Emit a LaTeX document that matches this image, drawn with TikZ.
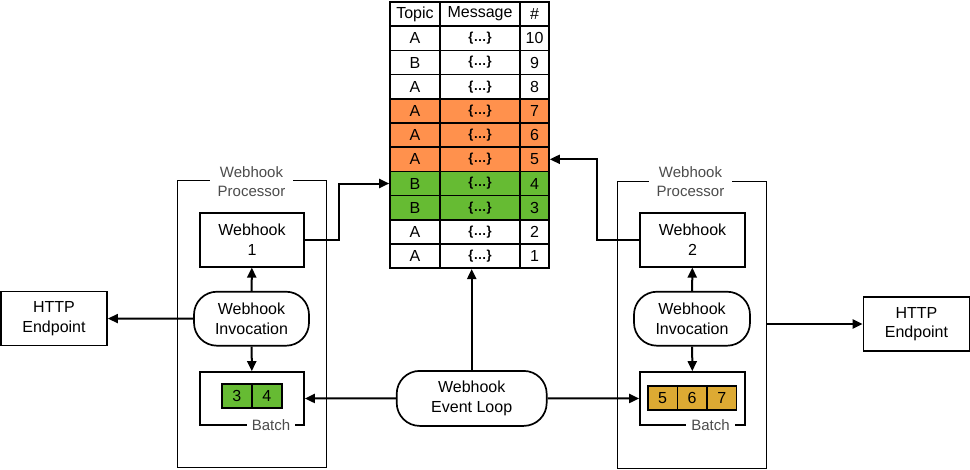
\documentclass[tikz,border=0pt]{standalone}
\usepackage{fontspec}
\setmainfont{Liberation Sans}
\usetikzlibrary{positioning, arrows.meta}
\definecolor{orng}{HTML}{FF914D}
\definecolor{grn}{HTML}{66BB33}
\definecolor{gold}{HTML}{DDAA33}

\begin{document}
\begin{tikzpicture}[x=1pt, y=-1pt,
    box/.style={rectangle, draw, fill=white, line width=1.7pt, align=center, inner sep=0pt, minimum width=105pt, minimum height=54pt, font=\fontsize{16}{19.5}\selectfont},
    pill/.style={box, rounded corners=23pt},
    processor/.style={rectangle, draw, line width=1pt, minimum width=149pt, minimum height=287pt, inner sep=0pt},
    caption/.style={fill=white, align=center, inner xsep=8pt, inner ysep=1pt, text=black!70, font=\fontsize{15}{19}\selectfont},
    cell/.style={rectangle, draw, line width=1.6pt, inner sep=0pt, minimum height=24.2pt, font=\fontsize{16}{19}\selectfont},
    item/.style={cell, minimum width=30pt, minimum height=24pt},
    arrow/.style={->, >={Triangle[length=10pt, width=9pt]}, line width=2pt}
  ]
  \useasboundingbox (0,0) rectangle (970,469);

  % Top: message table
  \node[cell, minimum width=50pt] (topichead) at (415,14.1) {Topic};
  \node[cell, minimum width=80pt] (msghead) at (480,14.1) {Message};
  \node[cell, minimum width=29pt] (numhead) at (534.5,14.1) {\#};
  \foreach \tp/\n/\c [count=\i] in {A/10/white, B/9/white, A/8/white, A/7/orng, A/6/orng, A/5/orng, B/4/grn, B/3/grn, A/2/white, A/1/white} {
    \pgfmathsetmacro{\ypos}{2+24.2*(\i+0.5)}
    \node[cell, fill=\c, minimum width=50pt] (topic\n) at (415,\ypos) {\tp};
    \node[cell, fill=\c, minimum width=80pt, font=\fontsize{13}{15}\selectfont\bfseries] (msg\n) at (480,\ypos) {\{…\}};
    \node[cell, fill=\c, minimum width=29pt] (num\n) at (534.5,\ypos) {\n};
  }

  % Left: webhook processor 1
  \node[processor] (procL) at (251.5,324) {};
  \node[caption] (procLtitle) at (251.5,182) {Webhook\\Processor};
  \node[box, minimum width=104pt] (hookL) at (252,239.7) {Webhook\\1};
  \node[pill, minimum width=115pt] (invL) at (251.5,318.7) {Webhook\\Invocation};
  \node[box, minimum width=104pt, minimum height=53pt] (batchL) at (252,398.5) {};
  \node[caption, inner xsep=5pt, inner ysep=0pt] (batchLtitle) at (271,425) {Batch};
  \node[item, fill=grn] (itemthree) at (236.7,396) {3};
  \node[item, fill=grn] (itemfour) at (266.7,396) {4};

  % Right: webhook processor 2
  \node[processor] (procR) at (692,324.5) {};
  \node[caption] (procRtitle) at (690.5,182) {Webhook\\Processor};
  \node[box] (hookR) at (692.5,239.7) {Webhook\\2};
  \node[pill, minimum width=116pt] (invR) at (692,318.7) {Webhook\\Invocation};
  \node[box, minimum height=53pt] (batchR) at (692.5,398.5) {};
  \node[caption, inner xsep=5pt, inner ysep=0pt] (batchRtitle) at (710.5,425) {Batch};
  \node[item, fill=gold, minimum width=29.6pt] (itemfive) at (662.5,398) {5};
  \node[item, fill=gold, minimum width=29.6pt] (itemsix) at (692.1,398) {6};
  \node[item, fill=gold, minimum width=29.6pt] (itemseven) at (721.7,398) {7};

  % Endpoints and event loop
  \node[box, minimum width=106pt] (httpL) at (54,318.5) {HTTP\\Endpoint};
  \node[box, minimum width=106pt] (httpR) at (916.5,324) {HTTP\\Endpoint};
  \node[pill, minimum width=150pt, minimum height=55pt] (loop) at (471.7,398.4) {Webhook\\Event Loop};

  % Arrows inside the processors
  \draw[arrow] (invL) -- (hookL);
  \draw[arrow] (invL) -- (batchL);
  \draw[arrow] (invR) -- (hookR);
  \draw[arrow] (invR) -- (batchR);

  % Webhooks to the table
  \draw[arrow] (hookL.east) -- ++(34,0) |- (topic4.west);
  \draw[arrow] (hookR.west) -- ++(-42,0) |- (num5.east);

  % Event loop
  \draw[arrow] (loop.north) -- (loop.north |- msg1.south);
  \draw[arrow] (loop) -- (batchL);
  \draw[arrow] (loop) -- (batchR);

  % Calls to the endpoints
  \draw[arrow] (invL) -- (httpL);
  \draw[arrow] (procR.east |- httpR) -- (httpR);
\end{tikzpicture}
\end{document}
